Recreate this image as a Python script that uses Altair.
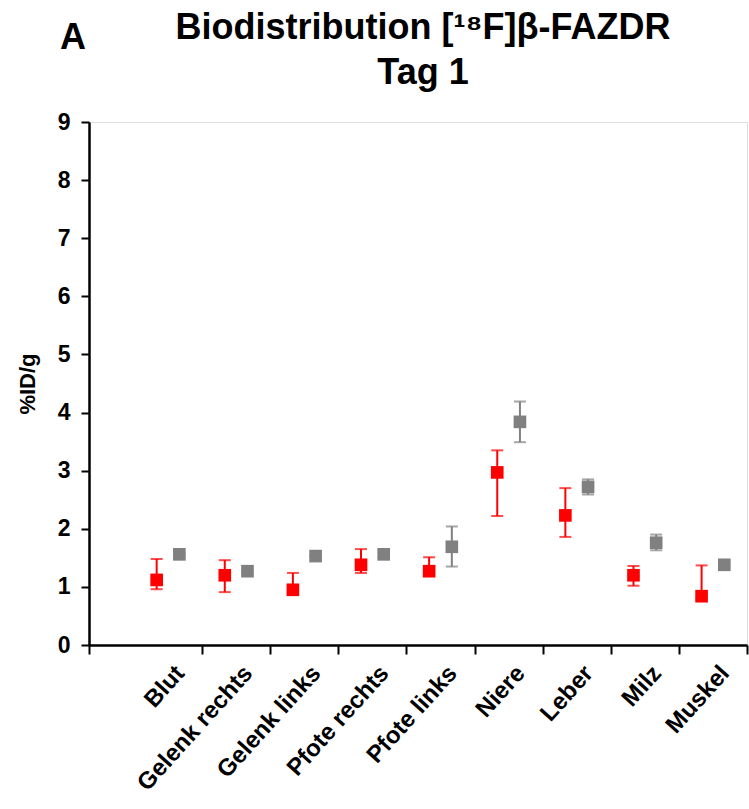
import json
import altair as alt
import pandas as pd

# ---- data ----
organs = ["Blut", "Gelenk rechts", "Gelenk links", "Pfote rechts", "Pfote links",
          "Niere", "Leber", "Milz", "Muskel"]
red_mean = [1.12, 1.20, 0.95, 1.38, 1.27, 2.97, 2.23, 1.20, 0.84]
red_hi = [1.48, 1.46, 1.24, 1.65, 1.51, 3.35, 2.70, 1.36, 1.37]
red_lo = [0.96, 0.91, 0.90, 1.24, 1.22, 2.22, 1.86, 1.02, 0.80]
gray_mean = [1.56, 1.27, 1.53, 1.56, 1.69, 3.84, 2.72, 1.76, 1.38]
gray_hi = [1.58, 1.29, 1.55, 1.60, 2.04, 4.19, 2.85, 1.90, 1.40]
gray_lo = [1.54, 1.25, 1.51, 1.52, 1.35, 3.49, 2.59, 1.63, 1.36]
y_ticks = [i * 0.5 for i in range(19)]
title_lines = ["Biodistribution [¹⁸F]β-FAZDR", "Tag 1"]
panel = ["A"]

# ---- layout / style ----
RED = "#FF0000"
GRAY = "#808080"
FONT = "Liberation Sans"
X_MIN = -0.66
X_MAX = 9

rows = []
for i, o in enumerate(organs):
    rows.append({"organ": o, "series": "red", "pos": i + 1 / 3,
                 "mean": red_mean[i], "hi": red_hi[i], "lo": red_lo[i]})
    rows.append({"organ": o, "series": "gray", "pos": i + 2 / 3,
                 "mean": gray_mean[i], "hi": gray_hi[i], "lo": gray_lo[i]})
df = pd.DataFrame(rows)

x_values = [X_MIN] + [v * 0.5 for v in range(1, 19)]
labels_js = json.dumps(organs)

x_axis = alt.Axis(
    values=x_values,
    title=None,
    labelExpr=f"(datum.value % 1 === 0.5) ? {labels_js}[floor(datum.value)] : ''",
    labelAngle=-48,
    labelAlign="right",
    labelBaseline="top",
    labelOffset=3,
    labelPadding=7,
    labelFont=FONT,
    labelFontSize=24,
    labelFontWeight="bold",
    labelColor="black",
    labelOverlap=False,
    labelBound=False,
    labelFlush=False,
    tickOpacity={"condition": {"test": "datum.value % 1 === 0 || datum.value < 0", "value": 1}, "value": 0},
    tickSize=9,
    tickWidth=2,
    tickColor="black",
    domainColor="black",
    domainWidth=2.5,
    grid=False,
)

y_axis = alt.Axis(
    values=y_ticks,
    title="%ID/g",
    titleFont=FONT,
    titleFontSize=22,
    titleFontWeight="bold",
    titleColor="black",
    titlePadding=18,
    labelExpr="datum.value % 1 === 0 ? toString(datum.value) : ''",
    labelFont=FONT,
    labelFontSize=23,
    labelFontWeight="bold",
    labelColor="black",
    labelPadding=11,
    labelOverlap=False,
    labelFlush=False,
    tickSize={"condition": {"test": "datum.value % 1 === 0", "value": 8}, "value": 4},
    tickWidth=2,
    tickColor="black",
    domainColor="black",
    domainWidth=2.5,
    grid=False,
)

x_enc = alt.X("pos:Q", scale=alt.Scale(domain=[X_MIN, X_MAX], nice=False, zero=False), axis=x_axis)
y_scale = alt.Scale(domain=[0, 9], nice=False)
color_enc = alt.Color("series:N", scale=alt.Scale(domain=["red", "gray"], range=[RED, GRAY]), legend=None)

base = alt.Chart(df)

rules = base.mark_rule(strokeWidth=2).encode(
    x=x_enc,
    y=alt.Y("lo:Q", scale=y_scale, axis=y_axis),
    y2="hi:Q",
    color=color_enc,
)
caps_hi = base.mark_tick(orient="horizontal", size=12, thickness=2).encode(
    x=x_enc, y=alt.Y("hi:Q", scale=y_scale), color=color_enc)
caps_lo = base.mark_tick(orient="horizontal", size=12, thickness=2).encode(
    x=x_enc, y=alt.Y("lo:Q", scale=y_scale), color=color_enc)
points = base.mark_square(size=160, opacity=1, filled=True).encode(
    x=x_enc, y=alt.Y("mean:Q", scale=y_scale), color=color_enc)

ann = alt.Chart(pd.DataFrame({"t": panel}))
letter = ann.mark_text(
    font=FONT, fontSize=36, fontWeight="bold", align="left", baseline="alphabetic", color="black"
).encode(x=alt.value(-29), y=alt.value(-73), text="t:N")
title = ann.mark_text(
    font=FONT, fontSize=36, fontWeight="bold", align="center", baseline="alphabetic",
    color="black", lineHeight=45
).encode(x=alt.value(334), y=alt.value(-83), text=alt.value(title_lines))

chart = alt.layer(rules, caps_hi, caps_lo, points, letter, title).properties(
    width=658,
    height=523,
    padding={"left": 89, "top": 122, "right": 2, "bottom": 164},
    autosize=alt.AutoSizeParams(type="none"),
).configure_view(stroke=None).configure(background="white")

chart.save("out.html", embed_options={"renderer": "svg", "actions": False})
